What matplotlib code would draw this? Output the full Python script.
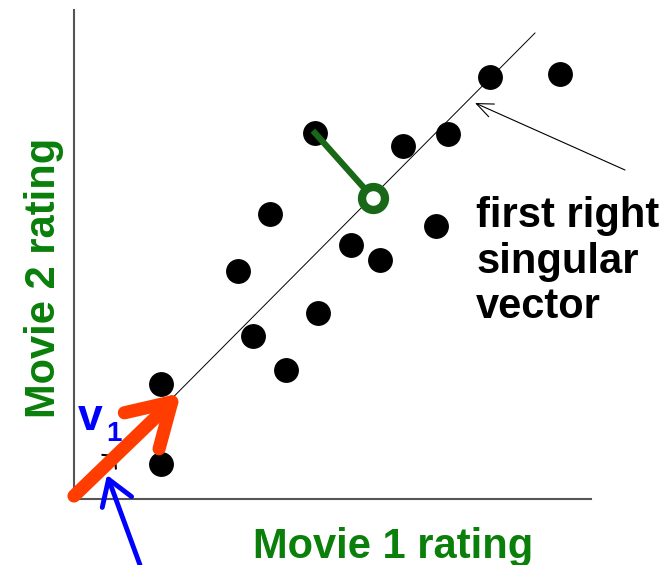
import matplotlib
matplotlib.use("Agg")
import matplotlib.pyplot as plt
from matplotlib.patches import FancyArrowPatch

plt.rcParams['font.family'] = ['Liberation Sans', 'DejaVu Sans']

# ratings (data units)
movie1 = [1.74, 1.74, 3.28, 3.92, 3.58, 4.24, 4.88, 4.82, 5.54, 6.12, 6.58, 7.24, 7.48, 8.32, 9.72]
movie2 = [2.30, 0.70, 4.56, 5.70, 3.26, 2.58, 3.72, 7.32, 5.08, 4.78, 7.06, 5.46, 7.30, 8.44, 8.50]

# first right singular vector line
line_x = [0.0, 9.22]
line_y = [0.04, 9.32]

# projected point
proj_from = (4.82, 7.32)
proj_to = (5.98, 6.02)

# v1 arrow
v1_start = (0.0, 0.06)
v1_end = (2.14, 2.12)

dark_green = '#186818'
label_green = '#0a7f0a'

fig = plt.figure(figsize=(6.71, 5.65), dpi=100)
ax = fig.add_axes([74 / 671, 66 / 565, 517 / 671, 489 / 565])
ax.set_xlim(0, 10.34)
ax.set_ylim(0, 9.78)
for s in ['top', 'right']:
    ax.spines[s].set_visible(False)
for s in ['left', 'bottom']:
    ax.spines[s].set_color('#555555')
    ax.spines[s].set_linewidth(1.5)
ax.set_xticks([])
ax.set_yticks([])

ax.plot(line_x, line_y, color='black', lw=0.7, zorder=2)
ax.scatter(movie1, movie2, s=285, color='black', zorder=3, clip_on=False)

# small black arrowhead hidden under v1
ax.annotate('', xy=(0.84, 0.88), xytext=(0.3, 0.35), annotation_clip=False,
            arrowprops=dict(arrowstyle='->,head_length=0.3,head_width=0.35', color='black',
                            lw=1.5, mutation_scale=20, shrinkA=0, shrinkB=0), zorder=4)

# projection
ax.plot([proj_from[0], proj_to[0]], [proj_from[1], proj_to[1]],
        color=dark_green, lw=4.5, zorder=4)
ax.plot(proj_to[0], proj_to[1], marker='o', markersize=16.5, markerfacecolor='white',
        markeredgecolor=dark_green, markeredgewidth=6, zorder=5)

# red v1 arrow
red = FancyArrowPatch(v1_start, v1_end, arrowstyle='->,head_length=1.0,head_width=0.6',
                      color='#ff3d00', lw=9.5, capstyle='round', joinstyle='round',
                      mutation_scale=30, shrinkA=0, shrinkB=0, zorder=6, clip_on=False)
ax.add_patch(red)

# blue pointer arrow
ax.annotate('', xy=(0.66, 0.48), xytext=(1.32, -1.32), annotation_clip=False,
            arrowprops=dict(arrowstyle='->,head_length=0.7,head_width=0.45', color='#0000ff',
                            lw=3.5, mutation_scale=25, shrinkA=0, shrinkB=0))
ax.text(0.08, 1.38, 'v', color='#0000ff', fontsize=32, fontweight='bold',
        ha='left', va='baseline')
ax.text(0.64, 1.16, '1', color='#0000ff', fontsize=20, fontweight='bold',
        ha='left', va='baseline')

# annotation for the singular vector
ax.annotate('', xy=(8.02, 7.92), xytext=(11.02, 6.58), annotation_clip=False,
            arrowprops=dict(arrowstyle='->,head_length=0.6,head_width=0.25', color='black',
                            lw=0.8, mutation_scale=20, shrinkA=0, shrinkB=0))
for txt, yb in zip(['first right', 'singular', 'vector'], [5.44, 4.52, 3.62]):
    ax.text(8.04, yb, txt, fontsize=30, fontweight='bold', color='black',
            ha='left', va='baseline', clip_on=False)

# axis labels
ax.text(3.58, -1.18, 'Movie 1 rating', fontsize=30, fontweight='bold', color=label_green,
        ha='left', va='baseline', clip_on=False)
ax.text(-0.38, 1.62, 'Movie 2 rating', fontsize=30, fontweight='bold', color=label_green,
        rotation=90, rotation_mode='anchor', ha='left', va='baseline', clip_on=False)

fig.savefig('out.png', dpi=100)
